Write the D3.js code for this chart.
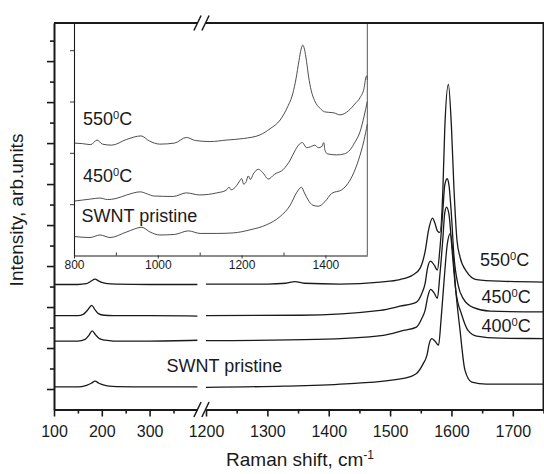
<!DOCTYPE html>
<html>
<head>
<meta charset="utf-8">
<script src="https://cdn.jsdelivr.net/npm/d3@7"></script>
<style>
  body { margin: 0; background: #fff; }
  svg text { font-family: Arial, "Liberation Sans", Helvetica, sans-serif; fill: #1a1a1a; }
</style>
</head>
<body>
<svg id="chart" width="544" height="474"></svg>
<script>
// Raman spectra of SWNT samples (pristine and annealed), main panel with a broken
// Raman-shift axis (RBM region | D/G region) and an inset of the 800-1500 cm-1 range.

// ---- main panel, RBM segment: [Raman shift (cm-1), intensity (arb. units)]
const rbm550 = [[100,2.55],[150,2.55],[168,2.57],[177,2.63],[186,2.68],[193,2.64],[200,2.60],[212,2.57],[231,2.56],[300,2.55],[400,2.55]];
const rbm450 = [[100,1.79],[150,1.79],[161,1.82],[170,1.92],[179,2.04],[186,1.93],[193,1.84],[205,1.80],[224,1.79],[300,1.79],[400,1.78]];
const rbm400 = [[100,1.17],[150,1.17],[165,1.21],[173,1.31],[180,1.42],[187,1.32],[195,1.23],[207,1.19],[224,1.17],[300,1.17],[400,1.19]];
const rbmPristine = [[100,0.05],[150,0.05],[168,0.09],[178,0.14],[186,0.19],[194,0.14],[203,0.10],[215,0.07],[231,0.06],[300,0.05],[400,0.05]];

// ---- main panel, D/G segment
const g550 = [[1200,2.56],[1300,2.56],[1330,2.58],[1345,2.62],[1360,2.58],[1418,2.56],[1484,2.61],[1516,2.67],[1537,2.78],
  [1549,2.95],[1557,3.35],[1563,3.90],[1569,4.17],[1573,4.05],[1577,3.86],[1581,3.82],[1586,4.85],[1589,6.31],[1595,7.43],
  [1600,6.39],[1604,4.92],[1609,3.63],[1614,3.22],[1625,2.86],[1641,2.67],[1679,2.63],[1750,2.61]];
const g450 = [[1200,1.79],[1353,1.80],[1484,1.92],[1516,2.02],[1543,2.12],[1552,2.34],[1557,2.57],[1561,2.95],[1566,3.12],
  [1572,3.02],[1577,2.90],[1581,3.39],[1586,4.36],[1589,4.97],[1593,5.13],[1596,4.97],[1600,4.24],[1604,3.26],[1611,2.53],
  [1619,2.21],[1635,1.99],[1663,1.90],[1750,1.88]];
const g400 = [[1200,1.18],[1380,1.21],[1489,1.31],[1522,1.43],[1543,1.51],[1552,1.73],[1557,1.92],[1562,2.29],[1566,2.43],
  [1572,2.34],[1577,2.21],[1581,2.76],[1586,3.67],[1589,4.29],[1592,4.44],[1596,4.26],[1601,3.39],[1607,2.41],[1617,1.80],
  [1627,1.43],[1641,1.29],[1679,1.24],[1750,1.23]];
const gPristine = [[1200,0.04],[1326,0.07],[1435,0.13],[1522,0.26],[1543,0.38],[1554,0.62],[1560,0.82],[1564,1.12],[1568,1.23],
  [1573,1.17],[1579,1.07],[1583,1.68],[1588,2.65],[1593,3.51],[1598,3.79],[1602,3.39],[1607,2.41],[1614,1.43],[1622,0.46],
  [1633,0.17],[1657,0.12],[1750,0.12]];

// ---- inset, 800-1500 cm-1
const inset550 = [[800,2.19],[820,2.18],[840,2.16],[855,2.25],[868,2.17],[890,2.15],[925,2.26],[960,2.33],[980,2.23],[1005,2.17],
  [1040,2.19],[1068,2.30],[1090,2.24],[1125,2.22],[1165,2.25],[1205,2.28],[1244,2.35],[1268,2.47],[1292,2.64],[1310,2.90],
  [1322,3.15],[1330,3.45],[1337,3.80],[1342,4.02],[1346,4.10],[1350,4.02],[1355,3.78],[1360,3.48],[1366,3.22],[1374,3.02],
  [1387,2.87],[1398,2.80],[1407,2.79],[1420,2.78],[1435,2.74],[1455,2.82],[1470,2.95],[1483,3.08],[1492,3.25],[1497,3.48],
  [1499,3.50],[1500,3.42]];
const inset450 = [[800,1.06],[820,1.08],[840,1.10],[862,1.12],[880,1.09],[900,1.11],[926,1.18],[958,1.24],[975,1.20],[990,1.16],
  [1037,1.15],[1068,1.22],[1100,1.18],[1141,1.22],[1163,1.27],[1170,1.33],[1175,1.28],[1188,1.36],[1196,1.46],[1200,1.50],
  [1205,1.39],[1211,1.44],[1216,1.55],[1221,1.48],[1228,1.59],[1240,1.68],[1250,1.62],[1264,1.49],[1278,1.58],[1300,1.68],
  [1316,1.86],[1328,2.05],[1338,2.17],[1345,2.20],[1355,2.10],[1365,2.12],[1375,2.15],[1383,2.10],[1391,2.12],[1396,2.20],
  [1399,2.05],[1405,1.98],[1427,1.96],[1445,1.98],[1459,2.06],[1470,2.20],[1483,2.42],[1492,2.70],[1500,3.00]];
const insetPristine = [[800,0.37],[838,0.35],[862,0.40],[886,0.35],[926,0.46],[962,0.55],[981,0.46],[1005,0.40],[1040,0.41],
  [1073,0.48],[1101,0.43],[1141,0.43],[1180,0.44],[1220,0.50],[1260,0.60],[1292,0.76],[1316,0.98],[1331,1.22],[1343,1.33],
  [1350,1.22],[1359,1.08],[1370,0.98],[1383,0.96],[1399,1.05],[1415,1.21],[1439,1.28],[1459,1.47],[1479,1.86],[1492,2.24],[1500,2.56]];

// ---- ticks and labels
const lowTicks = [100, 200, 300];
const lowMinor = [150, 250, 350];
const highTicks = [1200, 1300, 1400, 1500, 1600, 1700];
const highMinor = [1250, 1350, 1450, 1550, 1650, 1750];
const yMajor = [0, 1, 2, 3, 4, 5, 6, 7, 8];
const yMinor = [0.5, 1.5, 2.5, 3.5, 4.5, 5.5, 6.5, 7.5, 8.5];
const insetTicks = [800, 1000, 1200, 1400];
const insetMinor = [900, 1100, 1300];
const insetYTicks = [1, 2, 3, 4];
const mainLabels = ["550", "450", "400"];
const sampleName = "SWNT pristine";

// ---- layout
const svg = d3.select("#chart");
const plot = { left: 54, right: 543.5, top: 23, bottom: 409.5, breakLo: 197.4, breakHi: 206, breakMid: 201.5 };
const ins = { left: 74, right: 367.3, top: 23, bottom: 255.5 };

const xLow = d3.scaleLinear().domain([100, 400]).range([plot.left, plot.breakLo]);
const xHigh = d3.scaleLinear().domain([1200, 1750]).range([plot.breakHi, plot.right]);
const y = d3.scaleLinear().domain([-0.5, 8.93]).range([plot.bottom, plot.top]);
const xIn = d3.scaleLinear().domain([800, 1500]).range([ins.left, ins.right]);
const yIn = d3.scaleLinear().domain([0, 4.53]).range([ins.bottom, ins.top]);

const ink = "#1a1a1a";
const plain = d3.format("d");

// ---- main spectra
const lineLow = d3.line().x(d => xLow(d[0])).y(d => y(d[1])).curve(d3.curveMonotoneX);
const lineHigh = d3.line().x(d => xHigh(d[0])).y(d => y(d[1])).curve(d3.curveMonotoneX);
const curves = svg.append("g").attr("fill", "none").attr("stroke", ink).attr("stroke-width", 1.3).attr("stroke-linejoin", "round");
[rbm550, rbm450, rbm400, rbmPristine].forEach(s => curves.append("path").attr("d", lineLow(s)));
[g550, g450, g400, gPristine].forEach(s => curves.append("path").attr("d", lineHigh(s)));

// ---- inset panel
const inset = svg.append("g");
inset.append("rect").attr("x", ins.left).attr("y", ins.top)
  .attr("width", ins.right - ins.left).attr("height", ins.bottom - ins.top).attr("fill", "#fff");
const lineIn = d3.line().x(d => xIn(d[0])).y(d => yIn(d[1])).curve(d3.curveMonotoneX);
const insetCurves = inset.append("g").attr("fill", "none").attr("stroke", "#3a3a3a").attr("stroke-width", 0.9);
[inset550, inset450, insetPristine].forEach(s => insetCurves.append("path").attr("d", lineIn(s)));

function tidy(g, width, fontSize) {
  g.attr("font-family", null).attr("font-size", null);
  g.select(".domain").attr("stroke", ink).attr("stroke-width", width);
  g.selectAll(".tick line").attr("stroke", ink).attr("stroke-width", width * 0.8);
  g.selectAll(".tick text").attr("font-size", fontSize).attr("fill", ink);
}

inset.append("g").attr("transform", `translate(0,${ins.bottom})`)
  .call(d3.axisBottom(xIn).tickValues(insetTicks).tickFormat(plain).tickSize(3).tickSizeOuter(0).tickPadding(2))
  .call(g => tidy(g, 1.1, 12));
inset.append("g").attr("transform", `translate(0,${ins.bottom})`)
  .call(d3.axisBottom(xIn).tickValues(insetMinor).tickSize(-3).tickFormat(""))
  .call(g => { tidy(g, 1.1, 12); g.select(".domain").remove(); });
inset.append("g").attr("transform", `translate(${ins.left},0)`)
  .call(d3.axisLeft(yIn).tickValues(insetYTicks).tickSize(4).tickSizeOuter(0).tickFormat(""))
  .call(g => tidy(g, 1.1, 12));
inset.append("line").attr("x1", ins.right).attr("x2", ins.right).attr("y1", ins.top).attr("y2", ins.bottom)
  .attr("stroke", "#555").attr("stroke-width", 1);

function degreeLabel(parent, x, yb, num, size) {
  const t = parent.append("text").attr("x", x).attr("y", yb).attr("font-size", size);
  t.append("tspan").text(num);
  t.append("tspan").attr("font-size", size * 0.62).attr("dy", -6).text("0");
  t.append("tspan").attr("dy", 6).text("C");
}

degreeLabel(inset, 83, 125, mainLabels[0], 18);
degreeLabel(inset, 83, 181.7, mainLabels[1], 18);
inset.append("text").attr("x", 81.5).attr("y", 221.7).attr("font-size", 18).text(sampleName);

// ---- main labels
degreeLabel(svg, 480, 265.7, mainLabels[0], 18);
degreeLabel(svg, 481.5, 303.3, mainLabels[1], 18);
degreeLabel(svg, 481.5, 331.7, mainLabels[2], 18);
svg.append("text").attr("x", 166.5).attr("y", 371.7).attr("font-size", 18).text(sampleName);

// ---- main frame and axes
const frame = svg.append("g").attr("stroke", ink).attr("stroke-width", 2).attr("fill", "none");
frame.append("path").attr("d", `M${plot.left},${plot.top}H${plot.breakLo}M${plot.breakHi},${plot.top}H${plot.right}V${plot.bottom}`);

svg.append("g").attr("transform", `translate(0,${plot.bottom})`)
  .call(d3.axisBottom(xLow).tickValues(lowTicks).tickFormat(plain).tickSize(7).tickSizeOuter(0).tickPadding(9.5))
  .call(g => tidy(g, 2, 16));
svg.append("g").attr("transform", `translate(0,${plot.bottom})`)
  .call(d3.axisBottom(xLow).tickValues(lowMinor).tickSize(4).tickFormat(""))
  .call(g => { tidy(g, 2, 16); g.select(".domain").remove(); });
svg.append("g").attr("transform", `translate(0,${plot.bottom})`)
  .call(d3.axisBottom(xHigh).tickValues(highTicks).tickFormat(plain).tickSize(7).tickSizeOuter(0).tickPadding(9.5))
  .call(g => tidy(g, 2, 16));
svg.append("g").attr("transform", `translate(0,${plot.bottom})`)
  .call(d3.axisBottom(xHigh).tickValues(highMinor).tickSize(4).tickFormat(""))
  .call(g => { tidy(g, 2, 16); g.select(".domain").remove(); });

svg.append("g").attr("transform", `translate(${plot.left},0)`)
  .call(d3.axisLeft(y).tickValues(yMajor).tickSize(7).tickSizeOuter(0).tickFormat(""))
  .call(g => tidy(g, 2, 16));
svg.append("g").attr("transform", `translate(${plot.left},0)`)
  .call(d3.axisLeft(y).tickValues(yMinor).tickSize(4).tickFormat(""))
  .call(g => { tidy(g, 2, 16); g.select(".domain").remove(); });

// axis-break marks on the top border and the bottom axis
const breaks = svg.append("g").attr("stroke", ink).attr("stroke-width", 1.5);
[plot.top, plot.bottom].forEach(yy => {
  [-4, 4].forEach(off => {
    const cx = plot.breakMid + off;
    breaks.append("line").attr("x1", cx - 3.6).attr("y1", yy + 7.5).attr("x2", cx + 3.6).attr("y2", yy - 7.5);
  });
});

// ---- axis titles
const xt = svg.append("text").attr("x", 300).attr("y", 466).attr("text-anchor", "middle").attr("font-size", 19);
xt.append("tspan").text("Raman shift, cm");
xt.append("tspan").attr("font-size", 12).attr("dy", -7).text("-1");

svg.append("text").attr("transform", "translate(23,210) rotate(-90)")
  .attr("text-anchor", "middle").attr("font-size", 19).text("Intensity, arb.units");
</script>
</body>
</html>
